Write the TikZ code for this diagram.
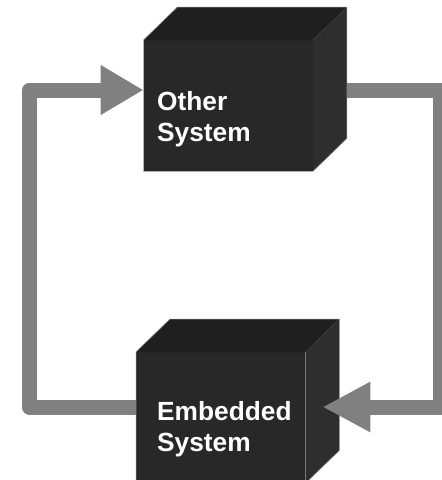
\documentclass[tikz,border=0pt]{standalone}
\usepackage{fontspec}
\setmainfont{Liberation Sans}
\usetikzlibrary{arrows.meta}

\definecolor{frontface}{HTML}{282828}
\definecolor{topface}{HTML}{1F1F1F}
\definecolor{sideface}{HTML}{2E2E2E}
\definecolor{cubeedge}{HTML}{8C8C8C}
\definecolor{flowgray}{HTML}{808080}

\tikzset{
  front/.style={draw=none, fill=frontface, inner sep=0pt, anchor=north west,
    minimum width=169pt, minimum height=131pt},
  label/.style={anchor=north west, inner sep=0pt, align=left, text=white,
    font=\fontsize{26.3pt}{31pt}\selectfont\bfseries},
  flow/.style={draw=flowgray, line width=15pt, line join=round},
}

% draws the top and side faces of a cube behind a front-face node
\newcommand{\cubefaces}[1]{%
  \fill[topface] (#1.north west) -- ++(34pt,33pt) -- ([xshift=34pt,yshift=33pt]#1.north east) -- (#1.north east) -- cycle;
  \fill[sideface] (#1.north east) -- ++(34pt,33pt) -- ([xshift=34pt,yshift=33pt]#1.south east) -- (#1.south east) -- cycle;
  \draw[cubeedge, line width=0.5pt, line join=miter]
    (#1.south west) -- (#1.north west) -- ++(34pt,33pt) -- ([xshift=34pt,yshift=33pt]#1.north east)
    -- ([xshift=34pt,yshift=33pt]#1.south east) -- (#1.south east) -- cycle;
}

\begin{document}
\begin{tikzpicture}[x=1pt, y=-1pt]
  \useasboundingbox (0,0) rectangle (442,480);
  \clip (0,0) rectangle (442,480);

  % corner points of the two connectors
  \coordinate (lc1) at (29.5,407);
  \coordinate (lc2) at (29.5,90);
  \coordinate (rc1) at (440.5,90);
  \coordinate (rc2) at (440.5,407);

  % embedded system cube
  \node[front] (emb) at (136,352) {};
  \cubefaces{emb}
  \node[label] (embtext) at (157,401) {Embedded\\System};

  % other system cube
  \node[front] (oth) at (143.5,40) {};
  \cubefaces{oth}
  \node[label] (othtext) at (157,91) {Other\\System};

  % feedback path from the embedded system to the other system
  \draw[flow, -{Triangle[length=43pt,width=47pt]}]
    (emb.west |- lc1) -- (lc1) -- (lc2) -- (oth.west |- lc2);

  % path from the other system into the embedded system
  \draw[flow, -{Triangle[length=48pt,width=47pt]}]
    ([xshift=34pt]oth.east |- rc1) -- (rc1) -- (rc2) -- ([xshift=17pt]emb.east |- rc2);
\end{tikzpicture}
\end{document}
